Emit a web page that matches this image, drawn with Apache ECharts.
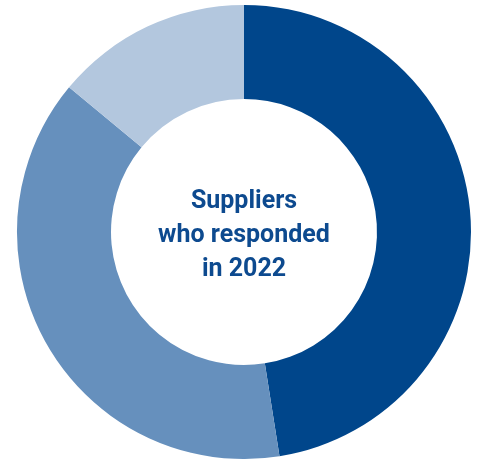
<!DOCTYPE html>
<html>
<head>
<meta charset="utf-8">
<script src="https://cdn.jsdelivr.net/npm/echarts@6/dist/echarts.min.js"></script>
<style>html,body{margin:0;padding:0;background:#fff;}#c{width:481px;height:459px;}</style>
</head>
<body>
<div id="c"></div>
<script>
const categories = ['Group A', 'Group B', 'Group C'];
const values = [47.5, 38.5, 14.0];
const colors = ['#00468b', '#6690bd', '#b3c7de'];
const centerText = 'Suppliers\nwho responded\nin 2022';

const chart = echarts.init(document.getElementById('c'), null, {renderer: 'canvas'});
chart.setOption({
  animation: false,
  series: [{
    type: 'pie',
    center: [244, 232],
    radius: [133, 227],
    startAngle: 90,
    clockwise: true,
    label: {show: false},
    labelLine: {show: false},
    emphasis: {disabled: true},
    itemStyle: {borderWidth: 0},
    data: categories.map((c, i) => ({name: c, value: values[i], itemStyle: {color: colors[i]}}))
  }],
  graphic: [{
    type: 'text',
    x: 244,
    y: 236,
    style: {
      text: centerText,
      fill: '#0d4a8f',
      font: 'bold 25px Roboto',
      lineHeight: 34,
      align: 'center',
      verticalAlign: 'middle'
    }
  }]
});
</script>
</body>
</html>
